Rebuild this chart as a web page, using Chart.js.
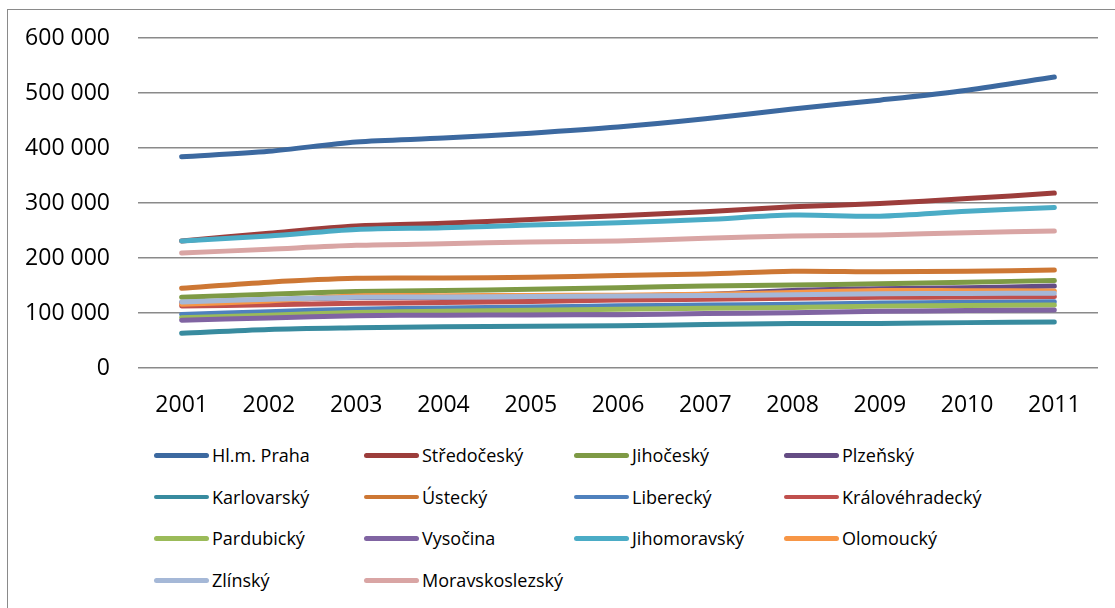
<!DOCTYPE html>
<html>
<head>
<meta charset="utf-8">
<script src="https://cdn.jsdelivr.net/npm/chart.js@4"></script>
<style>
  body { margin: 0; background: #fff; font-family: "Open Sans", sans-serif; }
  #frame { position: absolute; left: 7px; top: 9px; width: 1200px; height: 700px; border: 1.5px solid #8a8a8a; }
  #wrap { position: absolute; left: 0; top: 0; width: 1115px; height: 418px; }
  .leg { position: absolute; height: 24px; font-size: 18px; color: #000; white-space: nowrap; line-height: 24px; }
  .leg span.ln { position: absolute; left: 0; top: 10px; width: 55px; height: 4.5px; border-radius: 3px; }
  .leg span.tx { position: absolute; left: 58px; top: 0; }
</style>
</head>
<body>
<div id="frame"></div>
<div id="wrap"><canvas id="line-chart" width="1115" height="418"></canvas></div>
<div id="legend"></div>
<script>
// years on the x axis
var years = ["2001", "2002", "2003", "2004", "2005", "2006", "2007", "2008", "2009", "2010", "2011"];

// y axis ticks
var yTicks = [0, 100000, 200000, 300000, 400000, 500000, 600000];

var regions = ["Hl.m. Praha", "Středočeský", "Jihočeský", "Plzeňský", "Karlovarský", "Ústecký", "Liberecký",
    "Královéhradecký", "Pardubický", "Vysočina", "Jihomoravský", "Olomoucký", "Zlínský", "Moravskoslezský"];

var colors = ["#3c69a0", "#9c3d3b", "#7e9a45", "#644c84", "#388b9f", "#cd7734", "#4f81bd",
    "#c0504d", "#9bbb59", "#8064a2", "#4bacc6", "#f79646", "#a5b8d7", "#d9a5a4"];

// values (thousands)
var praha = [384, 394, 411, 418, 427, 438, 453, 471, 487, 505, 529];
var stredocesky = [231, 245, 258, 263, 270, 277, 284, 293, 299, 308, 318];
var jihocesky = [128.5, 134, 139, 141, 143, 146, 149, 151, 153, 156, 159];
var plzensky = [119, 124, 128, 128.5, 129.5, 131, 134, 141, 144, 146, 149];
var karlovarsky = [63, 70, 73, 75, 76, 77, 79, 81, 81, 82.5, 83.5];
var ustecky = [145, 156, 163, 163.5, 165, 168, 171, 176, 175, 176, 178];
var liberecky = [97.5, 102.5, 107, 109, 111, 113, 114.5, 116, 118, 119.5, 120.5];
var kralovehradecky = [112.7, 115, 117.6, 119, 121, 123.5, 125, 126.7, 128.5, 129, 130];
var pardubicky = [91.5, 96, 101, 103, 105, 107, 108.5, 110, 112.5, 113.5, 114.5];
var vysocina = [87, 91, 95, 96, 96.5, 97, 99, 100.5, 103, 104.5, 105.5];
var jihomoravsky = [231, 240, 252, 255, 260, 264, 270, 278, 276, 285, 292];
var olomoucky = [116, 122, 131, 131.5, 132, 132.5, 134, 137.5, 141, 140.5, 140];
var zlinsky = [120, 125, 128.5, 129, 130, 131, 132, 133, 135, 135.5, 136];
var moravskoslezsky = [209, 216, 223, 226, 229, 231, 236, 240, 242, 246, 249];

var series = [praha, stredocesky, jihocesky, plzensky, karlovarsky, ustecky, liberecky,
    kralovehradecky, pardubicky, vysocina, jihomoravsky, olomoucky, zlinsky, moravskoslezsky];

var datasets = [];
for (var i = 0; i < regions.length; i++) {
    datasets.push({
        label: regions[i],
        data: series[i].map(function(v) { return v * 1000; }),
        borderColor: colors[i],
        backgroundColor: colors[i],
        borderWidth: 5,
        borderCapStyle: "round",
        borderJoinStyle: "round",
        pointRadius: 0,
        tension: 0.3,
        order: regions.length - i // later series drawn on top
    });
}

function fmt(v) {
    return String(v).replace(/\B(?=(\d{3})+(?!\d))/g, " ");
}

const lineChart = document.querySelector("#line-chart");
new Chart(lineChart, {
    type: "line",
    data: { labels: years, datasets: datasets },
    options: {
        responsive: false,
        animation: false,
        layout: { padding: { top: 38, right: 17, left: 0, bottom: 0 } },
        plugins: { legend: { display: false }, tooltip: { enabled: false } },
        scales: {
            x: {
                offset: true,
                grid: { display: false },
                border: { display: false },
                ticks: { color: "#000", padding: 16, font: { family: "Open Sans", size: 23 }, maxRotation: 0 },
                afterFit: function(scale) { scale.height = 50; }
            },
            y: {
                min: 0,
                max: 600000,
                afterBuildTicks: function(scale) {
                    scale.ticks = yTicks.map(function(v) { return { value: v }; });
                },
                grid: { color: "#8a8a8a", lineWidth: 1.5, drawTicks: false },
                border: { display: false },
                ticks: {
                    color: "#000",
                    padding: 28,
                    font: { family: "Open Sans", size: 23 },
                    callback: function(v) { return fmt(v); }
                },
                afterFit: function(scale) {
                    scale.width = 138;
                    // tick padding is horizontal only here
                    scale.paddingTop = 14;
                    scale.paddingBottom = 14;
                }
            }
        }
    }
});

// legend in four columns like the original
var legend = document.getElementById("legend");
for (var k = 0; k < regions.length; k++) {
    var col = k % 4, row = Math.floor(k / 4);
    var d = document.createElement("div");
    d.className = "leg";
    d.style.left = (154 + col * 210) + "px";
    d.style.top = (443 + row * 41.7) + "px";
    d.innerHTML = '<span class="ln" style="background:' + colors[k] + '"></span><span class="tx">' + regions[k] + '</span>';
    legend.appendChild(d);
}
</script>
</body>
</html>
